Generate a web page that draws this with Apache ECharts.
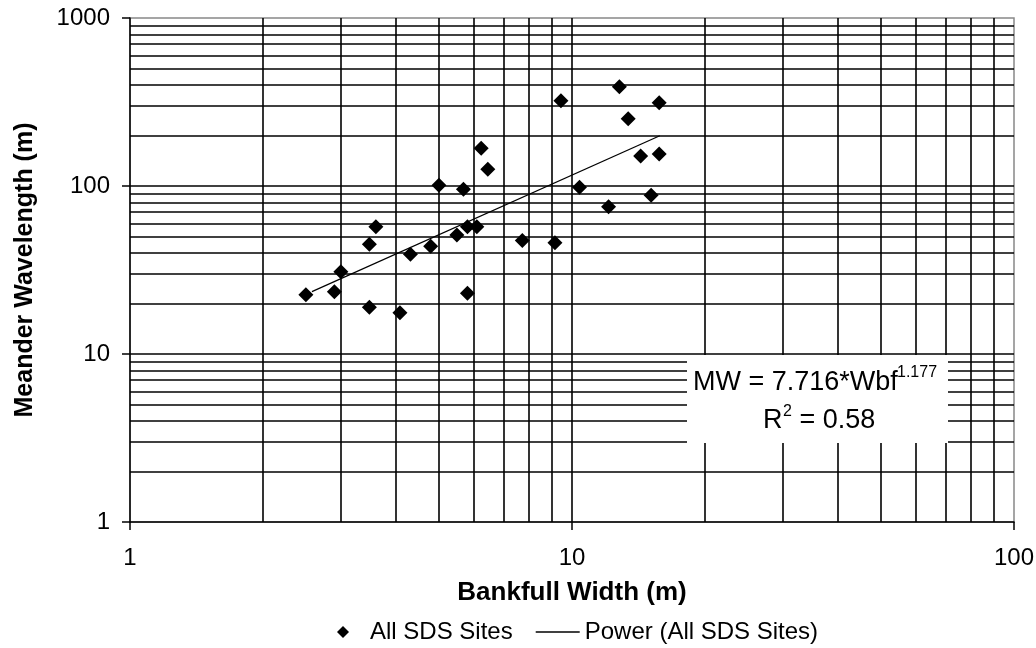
<!DOCTYPE html>
<html>
<head>
<meta charset="utf-8">
<script src="https://cdn.jsdelivr.net/npm/echarts@6/dist/echarts.min.js"></script>
<style>
  html, body { margin: 0; padding: 0; background: #fff; }
  #chart { width: 1036px; height: 648px; }
</style>
</head>
<body>
<div id="chart"></div>
<script>
// bankfull width (m) and meander wavelength (m)
const bankfullWidth = [2.50, 2.90, 3.00, 3.48, 3.60, 3.48, 4.08, 4.31, 4.79, 5.00,
    5.49, 5.68, 5.80, 5.80, 6.09, 6.23, 6.45, 7.72, 9.15, 9.44,
    10.4, 12.1, 12.8, 13.4, 14.3, 15.1, 15.75, 15.75];
const meanderWavelength = [22.5, 23.5, 30.9, 45.0, 57.3, 19.0, 17.6, 39.2, 43.8, 101,
    51.1, 95.6, 57.3, 23.0, 57.3, 168, 126, 47.3, 46.0, 322,
    98.2, 75.3, 390, 251, 151, 88.2, 313, 155];

// power trend line end points
const trendWidth = [2.58, 15.8];
const trendWavelength = [23.5, 199];

const xTicks = [1, 10, 100];
const yTicks = [1, 10, 100, 1000];

const FONT = 'Liberation Sans, Arial, sans-serif';

// gridlines at 2..9 of every decade plus the inner decade lines
function gridValues(ticks) {
    const vals = [];
    for (let i = 0; i < ticks.length - 1; i++) {
        for (let m = 1; m <= 9; m++) {
            if (i === 0 && m === 1) continue;
            vals.push(ticks[i] * m);
        }
    }
    return vals;
}

const gridLines = []
    .concat(gridValues(xTicks).map(v => ({ xAxis: v })))
    .concat(gridValues(yTicks).map(v => ({ yAxis: v })));

const chart = echarts.init(document.getElementById('chart'));

chart.setOption({
    animation: false,
    backgroundColor: '#fff',
    textStyle: { fontFamily: FONT, color: '#000' },
    grid: {
        left: 130, right: 22, top: 18, bottom: 126,
        show: true,
        borderColor: '#888',
        borderWidth: 1.5,
        containLabel: false,
        outerBoundsMode: 'none'
    },
    xAxis: {
        type: 'log',
        logBase: 10,
        min: 1,
        max: 100,
        name: 'Bankfull Width (m)',
        nameLocation: 'middle',
        nameGap: 58,
        nameTextStyle: { fontSize: 26, fontWeight: 'bold', color: '#000', fontFamily: FONT },
        axisLine: { lineStyle: { color: '#000', width: 1.5 } },
        axisTick: { show: true, length: 8, lineStyle: { color: '#000', width: 1.5 } },
        axisLabel: { fontSize: 24, color: '#000', margin: 24, fontFamily: FONT, formatter: v => String(v) },
        splitLine: { show: false },
        minorTick: { show: false }
    },
    yAxis: {
        type: 'log',
        logBase: 10,
        min: 1,
        max: 1000,
        name: 'Meander Wavelength (m)',
        nameLocation: 'middle',
        nameGap: 92,
        nameTextStyle: { fontSize: 25, fontWeight: 'bold', color: '#000', fontFamily: FONT },
        axisLine: { lineStyle: { color: '#000', width: 1.5 } },
        axisTick: { show: true, length: 8, lineStyle: { color: '#000', width: 1.5 } },
        axisLabel: { fontSize: 24, color: '#000', margin: 20, fontFamily: FONT, formatter: v => String(v) },
        splitLine: { show: false },
        minorTick: { show: false }
    },
    legend: {
        left: 332,
        top: 615,
        itemWidth: 44,
        itemHeight: 12,
        itemGap: 23,
        symbolKeepAspect: true,
        textStyle: { fontSize: 24, color: '#000', fontFamily: FONT },
        data: [
            { name: 'All SDS Sites', icon: 'path://M0,-1L1,0L0,1L-1,0Z', itemStyle: { color: '#000', opacity: 1 } },
            { name: 'Power (All SDS Sites)', icon: 'path://M0,0H44V1.3H0Z', itemStyle: { color: '#000', opacity: 1 } }
        ]
    },
    series: [
        {
            // gridlines only
            type: 'scatter',
            name: 'grid',
            data: [],
            silent: true,
            markLine: {
                silent: true,
                symbol: ['none', 'none'],
                label: { show: false },
                lineStyle: { color: '#000', width: 1.6, type: 'solid' },
                emphasis: { disabled: true },
                data: gridLines
            }
        },
        {
            type: 'line',
            name: 'Power (All SDS Sites)',
            data: trendWidth.map((w, i) => [w, trendWavelength[i]]),
            symbol: 'none',
            itemStyle: { color: '#000' },
            lineStyle: { color: '#000', width: 1.2 },
            z: 3
        },
        {
            type: 'scatter',
            name: 'All SDS Sites',
            data: bankfullWidth.map((w, i) => [w, meanderWavelength[i]]),
            symbol: 'diamond',
            symbolSize: 15,
            itemStyle: { color: '#000', opacity: 1 },
            z: 4
        }
    ],
    graphic: [
        {
            type: 'rect',
            z: 100,
            shape: { x: 687, y: 355, width: 261, height: 88 },
            style: { fill: '#fff' }
        },
        {
            type: 'text', z: 101, x: 693, y: 383,
            style: { text: 'MW = 7.716*Wbf', font: '27px ' + FONT, fill: '#000', verticalAlign: 'middle' }
        },
        {
            type: 'text', z: 101, x: 897, y: 373,
            style: { text: '1.177', font: '16px ' + FONT, fill: '#000', verticalAlign: 'middle' }
        },
        {
            type: 'text', z: 101, x: 763, y: 421,
            style: { text: 'R', font: '27px ' + FONT, fill: '#000', verticalAlign: 'middle' }
        },
        {
            type: 'text', z: 101, x: 783, y: 412,
            style: { text: '2', font: '16px ' + FONT, fill: '#000', verticalAlign: 'middle' }
        },
        {
            type: 'text', z: 101, x: 792, y: 421,
            style: { text: ' = 0.58', font: '27px ' + FONT, fill: '#000', verticalAlign: 'middle' }
        }
    ]
});
</script>
</body>
</html>
